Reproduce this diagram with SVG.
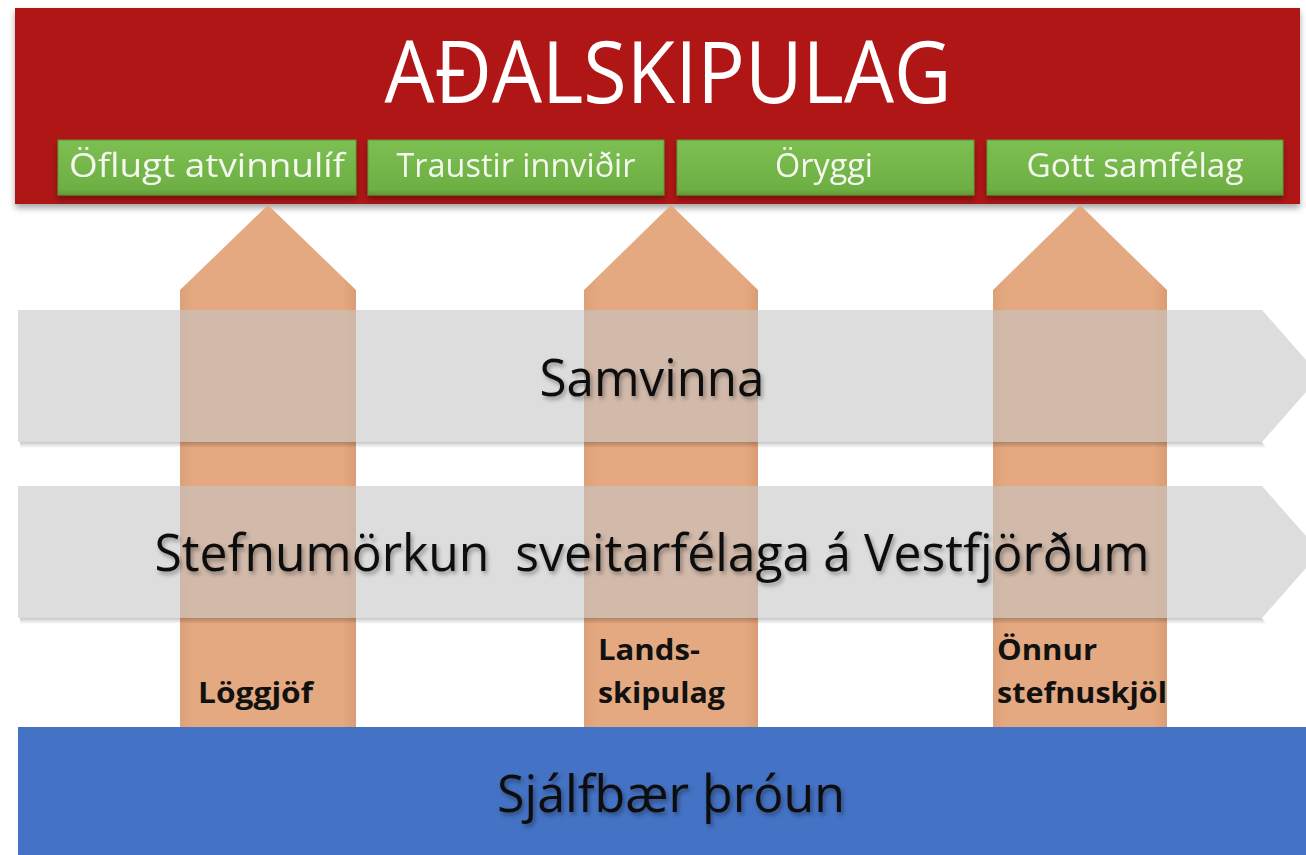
<svg xmlns="http://www.w3.org/2000/svg" width="1306" height="855" viewBox="0 0 1306 855">
<defs>
  <linearGradient id="gOrange" x1="0" y1="0" x2="1" y2="0">
    <stop offset="0" stop-color="#DDA17A"/>
    <stop offset="0.08" stop-color="#E4A980"/>
    <stop offset="0.92" stop-color="#E4A980"/>
    <stop offset="1" stop-color="#DA9C74"/>
  </linearGradient>
  <linearGradient id="gGreen" x1="0" y1="0" x2="0" y2="1">
    <stop offset="0" stop-color="#7DBF52"/>
    <stop offset="0.9" stop-color="#6DAF43"/>
    <stop offset="1" stop-color="#5E9A38"/>
  </linearGradient>
  <linearGradient id="gBandShadow" x1="0" y1="0" x2="0" y2="1">
    <stop offset="0" stop-color="#000" stop-opacity="0.22"/>
    <stop offset="1" stop-color="#000" stop-opacity="0"/>
  </linearGradient>
  <filter id="shadow" x="-5%" y="-20%" width="110%" height="150%">
    <feDropShadow dx="0" dy="4" stdDeviation="3" flood-color="#000" flood-opacity="0.35"/>
  </filter>
  <filter id="tshadow" x="-5%" y="-30%" width="110%" height="160%">
    <feDropShadow dx="2" dy="3" stdDeviation="2" flood-color="#000" flood-opacity="0.35"/>
  </filter>
  <style>
    .title{font-family:"Open Sans","Noto Sans",sans-serif;font-size:86px;fill:#fff;text-anchor:middle}
    .green{fill:url(#gGreen);stroke:#5E9A35;stroke-width:1}
    .gtxt{font-family:"Open Sans","Noto Sans",sans-serif;font-size:32px;fill:#F4F8EE;text-anchor:middle}
    .col{fill:url(#gOrange)}
    .band{fill:#C6C6C6;fill-opacity:0.6}
    .bshadow{fill:url(#gBandShadow)}
    .btxt{font-family:"Open Sans","Noto Sans",sans-serif;font-size:52px;fill:#111;text-anchor:middle}
    .lbl{font-family:"Open Sans","Noto Sans",sans-serif;font-size:28px;font-weight:bold;fill:#111}
  </style>
</defs>

<g id="adalskipulag">
  <rect x="15" y="8" width="1285" height="196" fill="#B01419" filter="url(#shadow)"/>
  <text class="title" x="668" y="103" textLength="567" lengthAdjust="spacingAndGlyphs">AÐALSKIPULAG</text>
</g>

<g id="oflugt-atvinnulif" filter="url(#shadow)">
  <rect class="green" x="58" y="140" width="298" height="55"/>
  <text class="gtxt" x="207" y="177" textLength="276" lengthAdjust="spacingAndGlyphs">Öflugt atvinnulíf</text>
</g>
<g id="traustir-innvidir" filter="url(#shadow)">
  <rect class="green" x="368" y="140" width="296" height="55"/>
  <text class="gtxt" x="516" y="177" textLength="239" lengthAdjust="spacingAndGlyphs">Traustir innviðir</text>
</g>
<g id="oryggi" filter="url(#shadow)">
  <rect class="green" x="677" y="140" width="297" height="55"/>
  <text class="gtxt" x="824" y="177" textLength="98" lengthAdjust="spacingAndGlyphs">Öryggi</text>
</g>
<g id="gott-samfelag" filter="url(#shadow)">
  <rect class="green" x="987" y="140" width="296" height="55"/>
  <text class="gtxt" x="1135" y="177" textLength="217" lengthAdjust="spacingAndGlyphs">Gott samfélag</text>
</g>

<g id="connectors">
  <polygon id="col-loggjof" class="col" points="180,290 268,205 356,290 356,728 180,728"/>
  <polygon id="col-landsskipulag" class="col" points="584,290 671,205 758,290 758,728 584,728"/>
  <polygon id="col-onnur" class="col" points="993,290 1080,205 1167,290 1167,728 993,728"/>
</g>

<g id="samvinna">
  <polygon class="bshadow" points="20,442 1262,442 1266,448 20,448"/>
  <polygon class="band" points="18,310 1262,310 1320,376 1262,442 18,442"/>
  <text class="btxt" x="652" y="396" textLength="225" lengthAdjust="spacingAndGlyphs" filter="url(#tshadow)">Samvinna</text>
</g>

<g id="stefnumorkun">
  <polygon class="bshadow" points="20,618 1262,618 1266,624 20,624"/>
  <polygon class="band" points="18,486 1262,486 1320,552 1262,618 18,618"/>
  <text class="btxt" x="652" y="571" textLength="995" lengthAdjust="spacingAndGlyphs" xml:space="preserve" filter="url(#tshadow)">Stefnumörkun  sveitarfélaga á Vestfjörðum</text>
</g>

<g id="labels">
  <text class="lbl" x="198" y="703" textLength="115" lengthAdjust="spacingAndGlyphs">Löggjöf</text>
  <text class="lbl" x="598" y="660" textLength="102" lengthAdjust="spacingAndGlyphs">Lands-</text>
  <text class="lbl" x="598" y="703" textLength="127" lengthAdjust="spacingAndGlyphs">skipulag</text>
  <text class="lbl" x="997" y="660" textLength="100" lengthAdjust="spacingAndGlyphs">Önnur</text>
  <text class="lbl" x="997" y="703" textLength="170" lengthAdjust="spacingAndGlyphs">stefnuskjöl</text>
</g>

<g id="sjalfbaer-throun">
  <rect x="18" y="727" width="1288" height="128" fill="#4472C4"/>
  <text class="btxt" x="671" y="812" textLength="348" lengthAdjust="spacingAndGlyphs" filter="url(#tshadow)">Sjálfbær þróun</text>
</g>
</svg>
